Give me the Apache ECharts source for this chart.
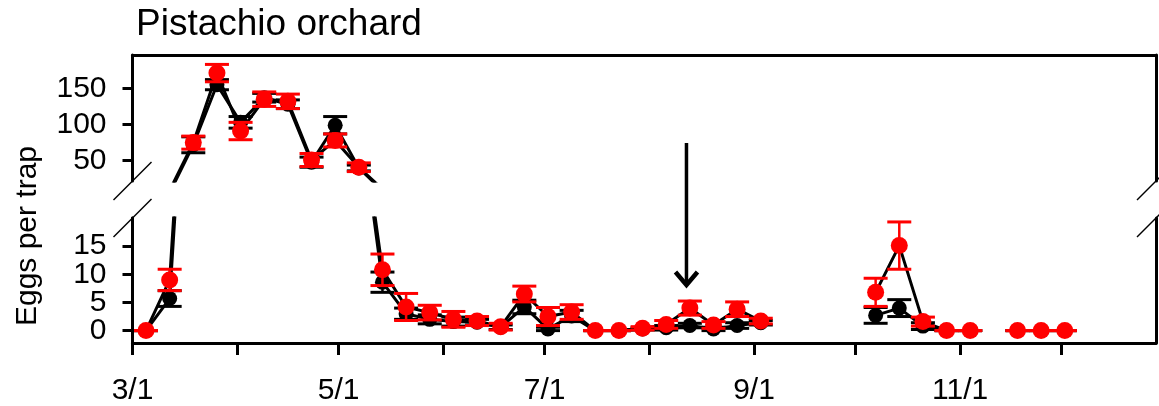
<!DOCTYPE html>
<html>
<head>
<meta charset="utf-8">
<title>Pistachio orchard</title>
<script src="https://cdn.jsdelivr.net/npm/echarts@6/dist/echarts.min.js"></script>
<style>
  html, body { margin: 0; padding: 0; background: #fff; }
  #chart { width: 1159px; height: 406px; }
</style>
</head>
<body>
<div id="chart"></div>
<script>
// sampling dates (month/day)
const dates = ['3/5', '3/12', '3/19', '3/26', '4/2', '4/9', '4/16', '4/23', '4/30', '5/7',
  '5/14', '5/21', '5/28', '6/4', '6/11', '6/18', '6/25', '7/2', '7/9', '7/16',
  '7/23', '7/30', '8/6', '8/13', '8/20', '8/27', '9/3', '10/7', '10/14', '10/21',
  '10/28', '11/4', '11/18', '11/25', '12/2'];
const blackMean = [0, 5.7, 72, 155, 103, 137, 128, 48, 99, 40,
  8.6, 3.0, 2.0, 1.6, 1.5, 0.6, 4.2, 0.3, 2.6, 0,
  0, 0.3, 0.5, 0.9, 0.3, 0.9, 1.4, 2.7, 4.0, 0.8,
  0, 0, 0, 0, 0];
const blackErr = [0, 1.4, 11, 7, 8, 6, 6, 7, 12, 4,
  1.8, 1.0, 0.8, 0.8, 0.5, 0.4, 1.2, 0.3, 1.0, 0,
  0, 0.2, 0.4, 0.4, 0.3, 0.5, 0.4, 1.4, 1.5, 0.6,
  0, 0, 0, 0, 0];
const redMean = [0, 9.0, 75, 171, 91, 135, 132, 51, 78, 41,
  10.8, 4.2, 3.2, 2.0, 1.7, 0.7, 6.5, 2.5, 3.3, 0,
  0, 0.4, 1.1, 4.0, 1.0, 3.8, 1.7, 6.8, 15.1, 1.6,
  0, 0, 0, 0, 0];
const redErr = [0, 1.9, 9, 12, 12, 10, 10, 9, 9, 6,
  2.8, 2.4, 1.3, 1.4, 0.8, 0.6, 1.4, 1.6, 1.3, 0,
  0, 0.3, 0.7, 1.25, 0.6, 1.3, 0.5, 2.5, 4.2, 0.8,
  0, 0, 0, 0, 0];

const monthTicks = ['3/1', '4/1', '5/1', '6/1', '7/1', '8/1', '9/1', '10/1', '11/1', '12/1'];
const monthLabels = ['3/1', '5/1', '7/1', '9/1', '11/1'];
const topTicks = [50, 100, 150];
const bottomTicks = [0, 5, 10, 15];
const arrowDate = '8/12';

const FONT = 'Liberation Sans, Arial, sans-serif';
const SPLIT = 20;        // values above this go to the upper panel
const TOP_RANGE = [22, 196];
const BOTTOM_RANGE = [-2.2, 20];
const X_MAX = 303;

function dayOf(md) {
  const [m, d] = md.split('/').map(Number);
  return (Date.UTC(2021, m - 1, d) - Date.UTC(2021, 2, 1)) / 86400000;
}
const days = dates.map(dayOf);
const labelDays = monthLabels.map(dayOf);

function lineData(mean) {
  const out = [];
  days.forEach((d, i) => {
    if (i > 0 && d - days[i - 1] > 10) out.push([(d + days[i - 1]) / 2, '-']);
    out.push([d, mean[i]]);
  });
  return out;
}
function panelPoints(mean, err, g) {
  const out = [];
  days.forEach((d, i) => {
    if ((g === 0) === (mean[i] >= SPLIT)) out.push([d, mean[i], mean[i] - err[i], mean[i] + err[i]]);
  });
  return out;
}

function errorBars(color, mean, err, g, z) {
  return {
    type: 'custom', xAxisIndex: g, yAxisIndex: g, z: z, silent: true,
    data: panelPoints(mean, err, g),
    encode: { x: 0, y: [2, 3] },
    renderItem(params, api) {
      const x = api.value(0);
      const lo = api.coord([x, api.value(2)]);
      const hi = api.coord([x, api.value(3)]);
      const hw = 12;
      return {
        type: 'group',
        children: [
          { type: 'line', shape: { x1: lo[0], y1: lo[1], x2: hi[0], y2: hi[1] }, style: { stroke: color, lineWidth: 2.5 } },
          { type: 'line', shape: { x1: lo[0] - hw, y1: lo[1], x2: lo[0] + hw, y2: lo[1] }, style: { stroke: color, lineWidth: 3 } },
          { type: 'line', shape: { x1: hi[0] - hw, y1: hi[1], x2: hi[0] + hw, y2: hi[1] }, style: { stroke: color, lineWidth: 3 } }
        ]
      };
    }
  };
}

const series = [];
[0, 1].forEach(g => {
  [blackMean, redMean].forEach(mean => {
    series.push({
      type: 'line', xAxisIndex: g, yAxisIndex: g, z: 1, silent: true,
      data: lineData(mean), showSymbol: false, clip: true, connectNulls: false,
      lineStyle: { color: '#000', width: 3 }
    });
  });
  series.push(errorBars('#000', blackMean, blackErr, g, 2));
  series.push({
    type: 'scatter', xAxisIndex: g, yAxisIndex: g, z: 3, silent: true,
    data: panelPoints(blackMean, blackErr, g).map(p => [p[0], p[1]]),
    symbolSize: 15, itemStyle: { color: '#000', opacity: 1 }
  });
  series.push(errorBars('#ff0000', redMean, redErr, g, 4));
  series.push({
    type: 'scatter', xAxisIndex: g, yAxisIndex: g, z: 5, silent: true,
    data: panelPoints(redMean, redErr, g).map(p => [p[0], p[1]]),
    symbolSize: 17, itemStyle: { color: '#ff0000', opacity: 1 }
  });
});

const axisLine = { show: true, onZero: false, lineStyle: { color: '#000', width: 3 } };
const tickStyle = { color: '#000', width: 3 };
const labelStyle = { color: '#000', fontSize: 30, fontFamily: FONT, hideOverlap: false };

function leftAxis(g, range, ticks) {
  return {
    type: 'value', gridIndex: g, min: range[0], max: range[1], position: 'left',
    axisLine: axisLine,
    axisTick: { show: true, length: 10, lineStyle: tickStyle, customValues: ticks },
    axisLabel: Object.assign({ margin: 26, customValues: ticks }, labelStyle),
    splitLine: { show: false }
  };
}
function rightAxis(g, range) {
  return {
    type: 'value', gridIndex: g, min: range[0], max: range[1], position: 'right',
    axisLine: axisLine, axisTick: { show: false }, axisLabel: { show: false }, splitLine: { show: false }
  };
}

const option = {
  animation: false,
  backgroundColor: '#fff',
  title: {
    text: 'Pistachio orchard', left: 131, top: 1,
    textStyle: { color: '#000', fontSize: 37, fontWeight: 'normal', fontFamily: FONT }
  },
  grid: [
    { left: 132.5, right: 3, top: 55, height: 126 },
    { left: 132.5, right: 3, top: 218, bottom: 61 }
  ],
  xAxis: [
    {
      type: 'value', gridIndex: 0, min: 0, max: X_MAX, position: 'top',
      axisLine: axisLine, axisTick: { show: false }, axisLabel: { show: false }, splitLine: { show: false }
    },
    {
      type: 'value', gridIndex: 1, min: 0, max: X_MAX, position: 'bottom',
      axisLine: axisLine,
      axisTick: { show: true, length: 12, lineStyle: tickStyle, customValues: monthTicks.map(dayOf) },
      axisLabel: Object.assign({}, labelStyle, {
        margin: 33, customValues: labelDays,
        formatter: v => monthLabels[labelDays.indexOf(v)] || ''
      }),
      splitLine: { show: false }
    }
  ],
  yAxis: [
    leftAxis(0, TOP_RANGE, topTicks),
    // the lower panel's ticks are close together, so they are split over two
    // overlapping left axes to keep ECharts from hiding every other label
    leftAxis(1, BOTTOM_RANGE, bottomTicks.filter((v, i) => i % 2 === 0)),
    rightAxis(0, TOP_RANGE),
    rightAxis(1, BOTTOM_RANGE),
    leftAxis(1, BOTTOM_RANGE, bottomTicks.filter((v, i) => i % 2 === 1))
  ],
  series: series
};

const chart = echarts.init(document.getElementById('chart'));
chart.setOption(option);

// axis break marks, y-axis title and the arrow
const gTop = chart.getModel().getComponent('grid', 0).coordinateSystem.getRect();
const gBot = chart.getModel().getComponent('grid', 1).coordinateSystem.getRect();
const breakY = [gTop.y + gTop.height, gBot.y];
const graphics = [];
[gTop.x, gTop.x + gTop.width].forEach(x => {
  breakY.forEach(y => {
    graphics.push({
      type: 'line', silent: true,
      shape: { x1: x - 19, y1: y + 19, x2: x + 19, y2: y - 19 },
      style: { stroke: '#000', lineWidth: 1.5 }
    });
  });
});
graphics.push({
  type: 'text', x: 28, y: 236, rotation: Math.PI / 2,
  style: { text: 'Eggs per trap', fill: '#000', font: '30px ' + FONT, align: 'center', verticalAlign: 'middle' }
});
const ax = chart.convertToPixel({ xAxisIndex: 1 }, dayOf(arrowDate));
graphics.push({
  type: 'line', silent: true,
  shape: { x1: ax, y1: 143, x2: ax, y2: 284 },
  style: { stroke: '#000', lineWidth: 3.5 }
});
graphics.push({
  type: 'polyline', silent: true,
  shape: { points: [[ax - 11, 272], [ax, 285], [ax + 11, 272]] },
  style: { stroke: '#000', lineWidth: 4.5, fill: null, lineJoin: 'miter' }
});
chart.setOption({ graphic: graphics });
</script>
</body>
</html>
